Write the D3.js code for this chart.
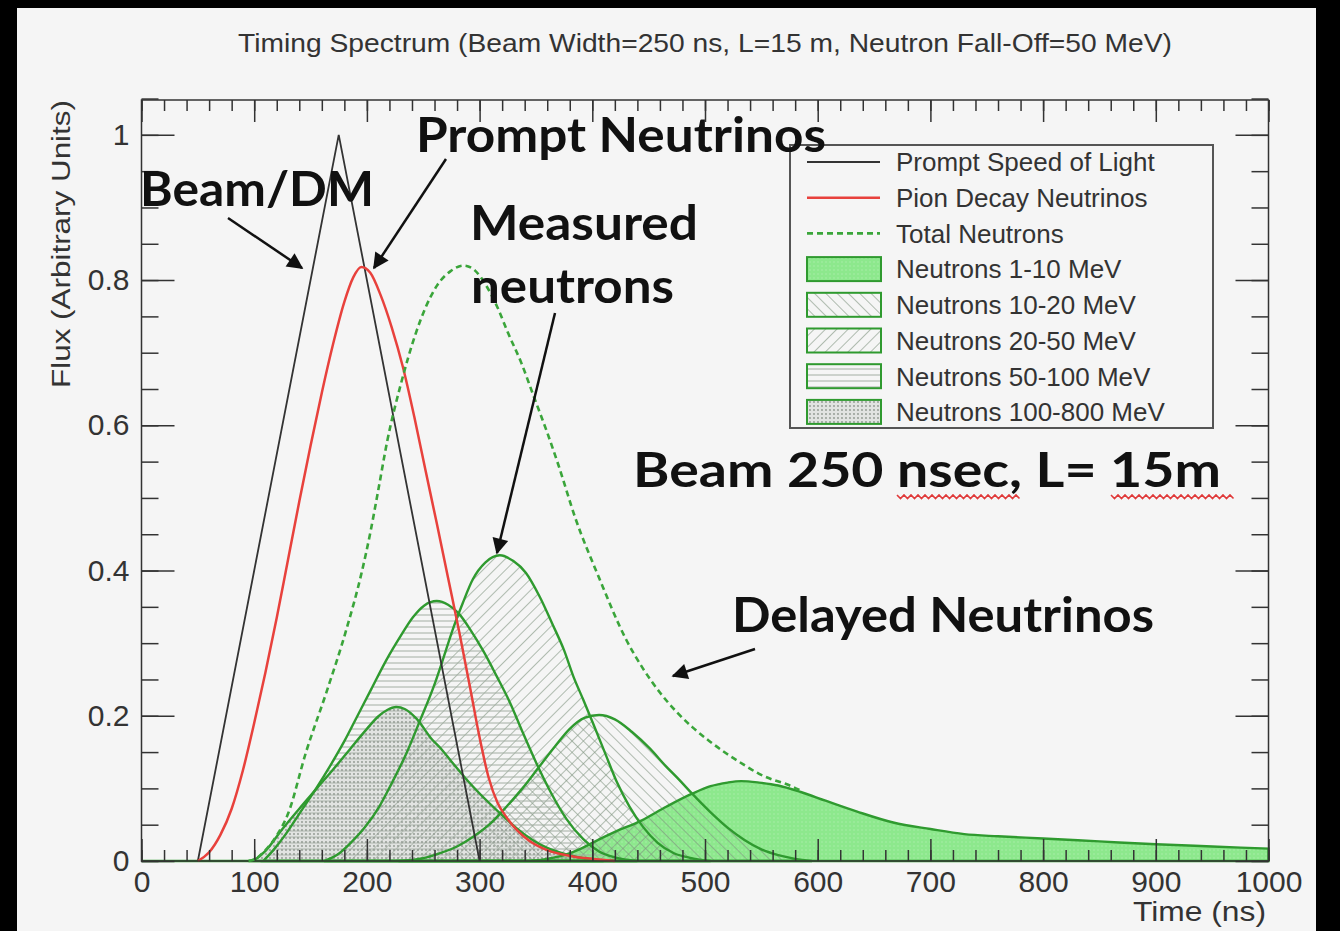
<!DOCTYPE html>
<html>
<head>
<meta charset="utf-8">
<script src="https://cdn.jsdelivr.net/npm/d3@7"></script>
<style>
  body { margin: 0; background: #000; }
  svg text { font-family: "Liberation Sans", Arial, sans-serif; }
</style>
</head>
<body>
<div id="chart"></div>
<script>
// values (time in ns, flux in arbitrary units)
const xTickValues = [0, 100, 200, 300, 400, 500, 600, 700, 800, 900, 1000];
const yTickValues = [0, 0.2, 0.4, 0.6, 0.8, 1];

const promptLight = [[50, 0], [175, 1], [300, 0]];

const pionDecay = [[50, 0], [60, 0.012], [70, 0.036], [80, 0.072], [90, 0.125], [100, 0.19], [110, 0.26],
    [120, 0.335], [130, 0.415], [140, 0.495], [150, 0.572], [160, 0.645], [170, 0.712], [180, 0.77],
    [188, 0.804], [195, 0.818], [203, 0.81], [212, 0.78], [222, 0.735], [232, 0.68], [242, 0.612],
    [252, 0.538], [262, 0.465], [272, 0.39], [282, 0.315], [292, 0.235], [300, 0.17], [308, 0.115],
    [316, 0.08], [324, 0.06], [334, 0.041], [344, 0.028], [360, 0.015], [380, 0.007], [400, 0.003], [420, 0]];

const totalNeutrons = [[95, 0], [100, 0.002], [110, 0.015], [120, 0.035], [130, 0.065], [146, 0.15],
    [164, 0.232], [182, 0.32], [195, 0.395], [203, 0.452], [210, 0.51], [218, 0.578], [230, 0.656],
    [243, 0.725], [252, 0.762], [262, 0.792], [274, 0.812], [286, 0.82], [296, 0.813], [306, 0.792],
    [316, 0.762], [325, 0.728], [337, 0.686], [348, 0.64], [360, 0.59], [370, 0.545], [385, 0.472],
    [406, 0.39], [430, 0.305], [445, 0.265], [460, 0.232], [475, 0.205], [489, 0.184], [504, 0.165],
    [519, 0.148], [534, 0.133], [548, 0.12], [560, 0.112], [572, 0.106], [585, 0.097]];

const n1to10 = [[0, 0], [340, 0], [360, 0.003], [375, 0.008], [390, 0.017], [400, 0.025], [420, 0.04],
    [444, 0.056], [466, 0.075], [489, 0.093], [505, 0.103], [520, 0.108], [532, 0.11], [548, 0.108],
    [565, 0.104], [585, 0.095], [607, 0.083], [635, 0.068], [667, 0.053], [700, 0.044], [730, 0.037],
    [760, 0.034], [800, 0.031], [850, 0.027], [900, 0.023], [950, 0.02], [1000, 0.017]];

const n10to20 = [[228, 0], [250, 0.004], [265, 0.011], [280, 0.02], [294, 0.033], [310, 0.052],
    [324, 0.075], [338, 0.1], [353, 0.13], [367, 0.158], [380, 0.182], [393, 0.197], [406, 0.201],
    [420, 0.195], [435, 0.178], [451, 0.155], [465, 0.131], [477, 0.112], [489, 0.092], [505, 0.067],
    [520, 0.046], [535, 0.029], [550, 0.016], [565, 0.008], [580, 0.003], [595, 0]];

const n20to50 = [[162, 0], [175, 0.01], [185, 0.024], [198, 0.046], [211, 0.075], [223, 0.11],
    [235, 0.148], [247, 0.193], [259, 0.239], [268, 0.28], [276, 0.318], [285, 0.355], [294, 0.388],
    [305, 0.411], [318, 0.421], [330, 0.413], [341, 0.397], [353, 0.365], [365, 0.325], [375, 0.29],
    [383, 0.255], [392, 0.222], [400, 0.192], [411, 0.15], [422, 0.108], [433, 0.075], [445, 0.047],
    [458, 0.025], [472, 0.011], [488, 0.004], [505, 0]];

const n50to100 = [[108, 0], [117, 0.015], [128, 0.037], [140, 0.065], [155, 0.1], [167, 0.13],
    [180, 0.165], [191, 0.198], [204, 0.237], [217, 0.276], [230, 0.31], [241, 0.336], [251, 0.352],
    [262, 0.358], [272, 0.353], [282, 0.34], [292, 0.318], [303, 0.29], [315, 0.255], [327, 0.218],
    [338, 0.178], [350, 0.136], [363, 0.095], [377, 0.058], [392, 0.03], [406, 0.013], [420, 0.005], [440, 0]];

const n100to800 = [[95, 0], [100, 0.002], [110, 0.014], [125, 0.044], [140, 0.072], [155, 0.099],
    [170, 0.126], [185, 0.154], [200, 0.182], [210, 0.199], [218, 0.208], [226, 0.212], [234, 0.209],
    [244, 0.196], [258, 0.167], [265, 0.156], [275, 0.137], [288, 0.113], [300, 0.093], [318, 0.066],
    [333, 0.045], [347, 0.029], [360, 0.018], [377, 0.009], [395, 0.003], [410, 0]];

const legendLabels = ["Prompt Speed of Light", "Pion Decay Neutrinos", "Total Neutrons",
    "Neutrons 1-10 MeV", "Neutrons 10-20 MeV", "Neutrons 20-50 MeV", "Neutrons 50-100 MeV", "Neutrons 100-800 MeV"];

const GREEN = "#2f9a2f";
const BG = "#f5f5f5";

drawChart();

function drawChart() {
    const width = 1340, height = 931;
    const plot = { left: 141.5, right: 1268.5, top: 100, bottom: 861 };

    const svg = d3.select("#chart").append("svg")
        .attr("width", width)
        .attr("height", height);

    // slide background (black strips on the edges of the capture)
    svg.append("rect").attr("x", 17).attr("y", 8)
        .attr("width", 1299).attr("height", 923).attr("fill", BG);

    const x = d3.scaleLinear().domain([0, 1000]).range([plot.left, plot.right]);
    const y = d3.scaleLinear().domain([0, 1.048]).range([plot.bottom, plot.top]);

    const defs = svg.append("defs");
    makePatterns(defs);

    const area = d3.area()
        .x(d => x(d[0])).y0(y(0)).y1(d => y(d[1]))
        .curve(d3.curveMonotoneX);
    const smooth = d3.line()
        .x(d => x(d[0])).y(d => y(d[1]))
        .curve(d3.curveMonotoneX);
    const straight = d3.line()
        .x(d => x(d[0])).y(d => y(d[1]));

    const neutronSets = [
        { data: n1to10, fill: "url(#fillSolid)" },
        { data: n10to20, fill: "url(#hatchBack)" },
        { data: n20to50, fill: "url(#hatchFwd)" },
        { data: n50to100, fill: "url(#hatchHoriz)" },
        { data: n100to800, fill: "url(#dots)" }
    ];

    const areas = svg.append("g");
    areas.selectAll("path.fill")
        .data(neutronSets)
        .enter()
        .append("path")
        .attr("class", "fill")
        .attr("d", d => area(d.data))
        .attr("fill", d => d.fill)
        .attr("stroke", "none");

    // black and red lines
    svg.append("path")
        .attr("d", straight(promptLight))
        .attr("fill", "none")
        .attr("stroke", "#333")
        .attr("stroke-width", 1.8);

    svg.append("path")
        .attr("d", smooth(pionDecay))
        .attr("fill", "none")
        .attr("stroke", "#e8413c")
        .attr("stroke-width", 2.5);

    drawAxes(svg, x, y, plot);

    // green outlines of the neutron bands
    areas.selectAll("path.edge")
        .data(neutronSets)
        .enter()
        .append("path")
        .attr("class", "edge")
        .attr("d", d => area(d.data))
        .attr("fill", "none")
        .attr("stroke", GREEN)
        .attr("stroke-width", 2.4);

    svg.append("path")
        .attr("d", smooth(totalNeutrons))
        .attr("fill", "none")
        .attr("stroke", "#3aa53a")
        .attr("stroke-width", 2.6)
        .attr("stroke-dasharray", "6,4");

    // title and axis titles
    svg.append("text")
        .attr("x", 705).attr("y", 52)
        .attr("text-anchor", "middle")
        .attr("textLength", 934).attr("lengthAdjust", "spacingAndGlyphs")
        .style("font-size", "26px").attr("fill", "#333")
        .text("Timing Spectrum (Beam Width=250 ns, L=15 m, Neutron Fall-Off=50 MeV)");

    svg.append("text")
        .attr("transform", "translate(70,244) rotate(-90)")
        .attr("text-anchor", "middle")
        .attr("textLength", 288).attr("lengthAdjust", "spacingAndGlyphs")
        .style("font-size", "25px").attr("fill", "#333")
        .text("Flux (Arbitrary Units)");

    svg.append("text")
        .attr("x", 1266).attr("y", 921)
        .attr("text-anchor", "end")
        .attr("textLength", 133).attr("lengthAdjust", "spacingAndGlyphs")
        .style("font-size", "28px").attr("fill", "#333")
        .text("Time (ns)");

    drawLegend(svg);
    drawNotes(svg, defs);
}

function makePatterns(defs) {
    const solid = defs.append("pattern").attr("id", "fillSolid")
        .attr("patternUnits", "userSpaceOnUse").attr("width", 4).attr("height", 4);
    solid.append("rect").attr("width", 4).attr("height", 4).attr("fill", "#8de88d");
    solid.append("circle").attr("cx", 2).attr("cy", 2).attr("r", 0.8).attr("fill", "#a9eea9");

    const fwd = defs.append("pattern").attr("id", "hatchFwd")
        .attr("patternUnits", "userSpaceOnUse").attr("width", 8).attr("height", 8)
        .attr("patternTransform", "rotate(45)");
    fwd.append("line").attr("x1", 0).attr("y1", 0).attr("x2", 0).attr("y2", 8)
        .attr("stroke", "#7f947f").attr("stroke-width", 1.2);

    const back = defs.append("pattern").attr("id", "hatchBack")
        .attr("patternUnits", "userSpaceOnUse").attr("width", 8).attr("height", 8)
        .attr("patternTransform", "rotate(-45)");
    back.append("line").attr("x1", 0).attr("y1", 0).attr("x2", 0).attr("y2", 8)
        .attr("stroke", "#7f947f").attr("stroke-width", 1.2);

    const horiz = defs.append("pattern").attr("id", "hatchHoriz")
        .attr("patternUnits", "userSpaceOnUse").attr("width", 6).attr("height", 6);
    horiz.append("line").attr("x1", 0).attr("y1", 3).attr("x2", 6).attr("y2", 3)
        .attr("stroke", "#a3aea3").attr("stroke-width", 1);

    const dots = defs.append("pattern").attr("id", "dots")
        .attr("patternUnits", "userSpaceOnUse").attr("width", 4).attr("height", 4);
    dots.append("rect").attr("width", 4).attr("height", 4).attr("fill", "rgba(190,195,190,0.35)");
    dots.append("circle").attr("cx", 2).attr("cy", 2).attr("r", 0.9).attr("fill", "#8c948c");
}

function drawAxes(svg, x, y, plot) {
    const fmtY = d => String(+d.toFixed(1));
    const xMinor = d3.range(0, 1001, 20);
    const yMinor = d3.range(0, 1.0501, 0.05);

    const style = g => {
        g.select(".domain").remove();
        g.selectAll("line").attr("stroke", "#333").attr("stroke-width", 1.5);
        g.selectAll("text").attr("fill", "#333").style("font-size", "30px")
            .style("font-family", "Liberation Sans, Arial, sans-serif");
    };

    // bottom
    svg.append("g").attr("transform", `translate(0,${plot.bottom})`)
        .call(d3.axisBottom(x).tickValues(xMinor).tickSize(-11).tickFormat(""))
        .call(style);
    svg.append("g").attr("transform", `translate(0,${plot.bottom})`)
        .call(d3.axisBottom(x).tickValues(xTickValues).tickSize(-22).tickPadding(10).tickFormat(d3.format("d")))
        .call(style);
    // top
    svg.append("g").attr("transform", `translate(0,${plot.top})`)
        .call(d3.axisTop(x).tickValues(xMinor).tickSize(-11).tickFormat(""))
        .call(style);
    svg.append("g").attr("transform", `translate(0,${plot.top})`)
        .call(d3.axisTop(x).tickValues(xTickValues).tickSize(-22).tickFormat(""))
        .call(style);
    // left
    svg.append("g").attr("transform", `translate(${plot.left},0)`)
        .call(d3.axisLeft(y).tickValues(yMinor).tickSize(-17).tickFormat(""))
        .call(style);
    svg.append("g").attr("transform", `translate(${plot.left},0)`)
        .call(d3.axisLeft(y).tickValues(yTickValues).tickSize(-33).tickPadding(12).tickFormat(fmtY))
        .call(style);
    // right
    svg.append("g").attr("transform", `translate(${plot.right},0)`)
        .call(d3.axisRight(y).tickValues(yMinor).tickSize(-17).tickFormat(""))
        .call(style);
    svg.append("g").attr("transform", `translate(${plot.right},0)`)
        .call(d3.axisRight(y).tickValues(yTickValues).tickSize(-33).tickFormat(""))
        .call(style);

    svg.append("rect")
        .attr("x", plot.left).attr("y", plot.top)
        .attr("width", plot.right - plot.left).attr("height", plot.bottom - plot.top)
        .attr("fill", "none").attr("stroke", "#333").attr("stroke-width", 1.5);
}

function drawLegend(svg) {
    const lg = svg.append("g");
    lg.append("rect")
        .attr("x", 790).attr("y", 145).attr("width", 423).attr("height", 283)
        .attr("fill", BG).attr("stroke", "#555").attr("stroke-width", 2);

    const rowY = i => 162 + i * 35.7;
    const fills = [null, null, null, "url(#fillSolid)", "url(#hatchBack)", "url(#hatchFwd)", "url(#hatchHoriz)", "url(#dots)"];

    lg.selectAll("text")
        .data(legendLabels)
        .enter()
        .append("text")
        .attr("x", 896)
        .attr("y", (d, i) => rowY(i))
        .attr("dy", "0.36em")
        .style("font-size", "26px")
        .attr("fill", "#333")
        .text(d => d);

    lg.append("line").attr("x1", 807).attr("x2", 880).attr("y1", rowY(0)).attr("y2", rowY(0))
        .attr("stroke", "#333").attr("stroke-width", 2);
    lg.append("line").attr("x1", 807).attr("x2", 880).attr("y1", rowY(1)).attr("y2", rowY(1))
        .attr("stroke", "#e8413c").attr("stroke-width", 2.5);
    lg.append("line").attr("x1", 807).attr("x2", 880).attr("y1", rowY(2)).attr("y2", rowY(2))
        .attr("stroke", "#3aa53a").attr("stroke-width", 2.6).attr("stroke-dasharray", "6,4");

    lg.selectAll("rect.sym")
        .data(fills.slice(3))
        .enter()
        .append("rect")
        .attr("class", "sym")
        .attr("x", 807).attr("width", 74)
        .attr("y", (d, i) => rowY(i + 3) - 12).attr("height", 24)
        .attr("fill", d => d)
        .attr("stroke", GREEN).attr("stroke-width", 2);
}

function drawNotes(svg, defs) {
    defs.append("marker")
        .attr("id", "head")
        .attr("viewBox", "0 0 10 10")
        .attr("refX", 9).attr("refY", 5)
        .attr("markerUnits", "userSpaceOnUse")
        .attr("markerWidth", 22).attr("markerHeight", 16)
        .attr("orient", "auto")
        .append("path").attr("d", "M0,0 L10,5 L0,10 Z").attr("fill", "#111");

    const arrows = [
        [228, 218, 302, 268],
        [446, 159, 374, 268],
        [555, 313, 497, 553],
        [755, 649, 673, 676]
    ];
    svg.append("g").selectAll("line")
        .data(arrows)
        .enter()
        .append("line")
        .attr("x1", d => d[0]).attr("y1", d => d[1])
        .attr("x2", d => d[2]).attr("y2", d => d[3])
        .attr("stroke", "#111").attr("stroke-width", 2.5)
        .attr("marker-end", "url(#head)");

    const notes = [
        { t: "Prompt Neutrinos", x: 416, y: 152, w: 410 },
        { t: "Beam/DM", x: 140, y: 206, w: 234 },
        { t: "Measured", x: 470, y: 240, w: 228 },
        { t: "neutrons", x: 471, y: 303, w: 203 },
        { t: "Beam 250 nsec, L= 15m", x: 633, y: 487, w: 588 },
        { t: "Delayed Neutrinos", x: 732, y: 632, w: 422 }
    ];
    svg.append("g").selectAll("text")
        .data(notes)
        .enter()
        .append("text")
        .attr("x", d => d.x).attr("y", d => d.y)
        .attr("textLength", d => d.w).attr("lengthAdjust", "spacingAndGlyphs")
        .style("font-family", "Lato, 'Open Sans', sans-serif")
        .style("font-weight", "700")
        .style("font-size", "47px")
        .attr("fill", "#111")
        .text(d => d.t);

    // spell-check squiggles under "nsec," and "15m"
    const squiggle = (x0, x1, yy) => {
        let p = `M${x0},${yy}`;
        for (let px = x0 + 3.5, i = 0; px <= x1; px += 3.5, i++) {
            p += `L${px},${yy + (i % 2 === 0 ? 3.5 : 0)}`;
        }
        return p;
    };
    [[897, 1021], [1111, 1234]].forEach(s => {
        svg.append("path")
            .attr("d", squiggle(s[0], s[1], 495))
            .attr("fill", "none")
            .attr("stroke", "#e03a3a")
            .attr("stroke-width", 1.6);
    });
}
</script>
</body>
</html>
